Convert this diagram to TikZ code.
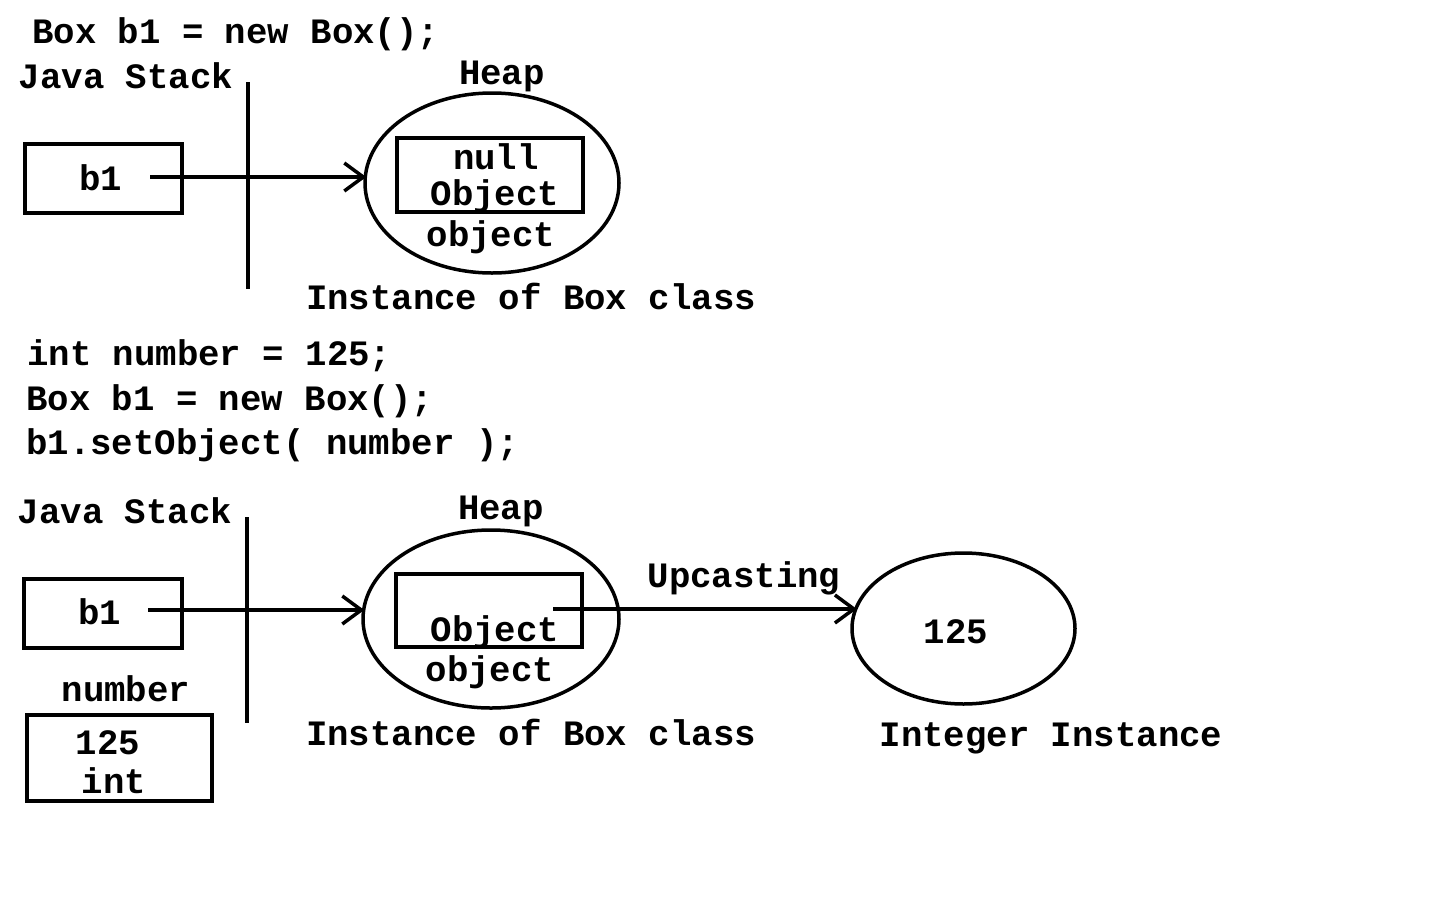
\documentclass[tikz,border=0pt]{standalone}
\usepackage{fontspec}
\setmonofont{Liberation Mono}
\usetikzlibrary{arrows.meta,positioning,shapes.geometric,calc}
\tikzset{
  txt/.style  ={font=\ttfamily\bfseries\fontsize{35.7}{40}\selectfont,inner sep=0pt,anchor=base},
  cell/.style ={draw,line width=3.5pt,inner sep=0pt},
  heap/.style ={draw,ellipse,line width=3.5pt,inner sep=0pt},
  wall/.style ={line width=3.5pt},
  ar/.style   ={-{Straight Barb[length=19pt,width=28pt]},line width=3.5pt},
}
\begin{document}
\begin{tikzpicture}[x=1pt,y=-1pt]
  \useasboundingbox (0,0) rectangle (1440,900);
  % first snippet
  \node[txt,anchor=base west] (code1) at (32,43) {Box b1 = new Box();};
  \node[txt] (stack1) at (126,88) {Java Stack};
  \node[txt] (heapt1) at (502,84) {Heap};
  \draw[wall] (248,82) -- (248,289);
  \node[cell,minimum width=157pt,minimum height=69pt] (ref1) at (103.5,178.5) {};
  \node[txt] (ref1t) at (101,190) {b1};
  \node[heap,minimum width=254pt,minimum height=180pt] (heap1) at (492,183) {};
  \node[cell,minimum width=186pt,minimum height=74pt] (fld1) at (490,175) {};
  \node[txt] (nullt) at (496,169) {null};
  \node[txt] (type1) at (495,205) {Object};
  \node[txt] (name1) at (491,246) {object};
  \node[txt] (inst1) at (531,309) {Instance of Box class};
  \coordinate (s1) at (150,177);
  \draw[ar] (s1) -- ($(s1 -| heap1.west)+(3,0)$);
  % second snippet
  \node[txt,anchor=base west] (code2) at (27,365) {int number = 125;};
  \node[txt,anchor=base west] (code3) at (26,410) {Box b1 = new Box();};
  \node[txt,anchor=base west] (code4) at (26,454) {b1.setObject( number );};
  \node[txt] (stack2) at (125,523) {Java Stack};
  \node[txt] (heapt2) at (501,519) {Heap};
  \draw[wall] (247,517) -- (247,723);
  \node[cell,minimum width=158pt,minimum height=69pt] (ref2) at (103,613.5) {};
  \node[txt] (ref2t) at (100,624) {b1};
  \node[txt] (numt) at (126,701) {number};
  \node[cell,minimum width=185pt,minimum height=86pt] (num) at (119.5,758) {};
  \node[txt] (numv) at (108,754) {125};
  \node[txt] (numtype) at (114,793) {int};
  \node[heap,minimum width=256pt,minimum height=178pt] (heap2) at (491,619) {};
  \node[cell,minimum width=186pt,minimum height=73pt] (fld2) at (489,610.5) {};
  \node[txt] (type2) at (495,641) {Object};
  \node[txt] (name2) at (490,681) {object};
  \node[txt] (inst2) at (531,745) {Instance of Box class};
  \node[heap,minimum width=223pt,minimum height=151pt] (intobj) at (963.5,628.5) {};
  \node[txt] (intv) at (956,643) {125};
  \node[txt] (inst3) at (1051,746) {Integer Instance};
  \node[txt] (upc) at (744,587) {Upcasting};
  \coordinate (s2) at (148,610);
  \coordinate (s3) at (553,609);
  \draw[ar] (s2) -- ($(s2 -| heap2.west)+(3,0)$);
  \draw[ar] (s3) -- ($(s3 -| intobj.170)+(3,0)$);
\end{tikzpicture}
\end{document}
